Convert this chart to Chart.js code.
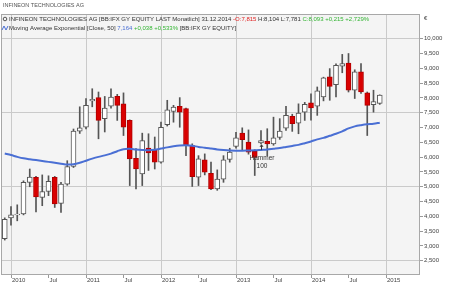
<!DOCTYPE html>
<html>
<head>
<meta charset="utf-8">
<script src="https://cdn.jsdelivr.net/npm/chart.js@4.4.1/dist/chart.umd.min.js"></script>
<style>
html, body { margin: 0; padding: 0; background: #fff; }
#wrap { width: 450px; height: 286px; }
</style>
</head>
<body>
<div id="wrap"><canvas id="myChart" width="450" height="286"></canvas></div>
<script>
// monthly candles, Dec 2009 .. Dec 2014 (EUR)
var months = ['12.2009',
  '01.2010','02.2010','03.2010','04.2010','05.2010','06.2010','07.2010','08.2010','09.2010','10.2010','11.2010','12.2010',
  '01.2011','02.2011','03.2011','04.2011','05.2011','06.2011','07.2011','08.2011','09.2011','10.2011','11.2011','12.2011',
  '01.2012','02.2012','03.2012','04.2012','05.2012','06.2012','07.2012','08.2012','09.2012','10.2012','11.2012','12.2012',
  '01.2013','02.2013','03.2013','04.2013','05.2013','06.2013','07.2013','08.2013','09.2013','10.2013','11.2013','12.2013',
  '01.2014','02.2014','03.2014','04.2014','05.2014','06.2014','07.2014','08.2014','09.2014','10.2014','11.2014','12.2014'];
var opens = [3.25,
  3.95,4.05,4.08,5.15,5.32,4.64,4.84,5.32,4.44,5.09,5.69,6.88,
  7.01,7.90,8.01,7.30,7.72,8.05,7.80,7.24,5.96,5.43,6.31,6.24,
  5.83,7.10,7.54,7.72,7.64,6.39,5.32,5.91,5.45,4.93,5.26,5.92,
  6.36,6.81,6.51,6.20,6.48,6.53,6.45,6.67,6.98,7.38,7.15,7.52,
  7.83,7.72,8.03,8.71,8.45,9.07,9.18,8.26,8.88,8.17,7.77,7.815];
var highs = [3.95,
  4.33,4.39,5.20,5.60,5.35,5.40,5.37,5.35,5.15,5.88,6.95,7.70,
  7.98,8.31,8.20,8.05,8.31,8.12,8.17,7.26,6.29,6.81,6.79,6.68,
  7.18,7.92,7.75,8.01,7.66,6.45,6.05,6.11,5.83,5.57,6.05,6.30,
  6.84,6.99,6.92,6.25,6.90,6.96,7.35,7.30,7.72,7.45,7.80,7.85,
  8.14,8.37,8.70,8.99,9.15,9.47,9.50,8.95,9.16,8.20,8.26,8.104];
var lows = [3.20,
  3.70,3.85,4.05,5.00,4.15,4.36,4.70,4.30,4.13,5.05,5.65,6.80,
  6.95,7.70,6.62,6.85,7.65,7.24,6.73,5.04,4.93,5.04,5.55,5.60,
  5.80,7.05,7.18,7.01,6.05,5.01,5.04,5.40,4.90,4.88,5.15,5.83,
  6.30,6.22,6.10,5.38,6.45,6.05,6.40,6.60,6.90,6.87,6.79,7.24,
  7.25,7.41,7.90,7.92,8.03,8.85,8.20,7.98,8.15,6.73,7.52,7.781];
var closes = [3.90,
  4.05,4.08,5.15,5.33,4.66,4.84,5.18,4.42,5.09,5.68,6.88,6.99,
  7.75,7.95,7.24,7.66,8.03,7.75,7.01,5.94,5.60,6.56,6.14,5.83,
  7.01,7.60,7.69,7.52,6.42,5.34,5.94,5.49,4.93,5.26,5.91,6.17,
  6.65,6.59,6.17,5.99,6.56,6.45,6.65,6.88,7.41,7.13,7.49,7.78,
  7.66,8.24,8.68,8.39,9.10,9.16,8.26,8.88,8.20,7.75,7.878,8.093];
// Moving Average Exponential [Close, 50]
var ema50 = [6.12,
  6.07,6.01,5.96,5.93,5.90,5.87,5.84,5.81,5.78,5.75,5.76,5.81,
  5.88,5.95,6.01,6.06,6.12,6.20,6.27,6.28,6.26,6.245,6.235,6.25,
  6.29,6.33,6.365,6.39,6.40,6.385,6.345,6.32,6.29,6.26,6.24,6.225,
  6.22,6.22,6.225,6.23,6.245,6.26,6.285,6.31,6.345,6.38,6.415,6.47,
  6.53,6.60,6.65,6.72,6.79,6.87,6.97,7.04,7.08,7.11,7.126,7.164];

var xTickLabels = ['2010','Jul','2011','Jul','2012','Jul','2013','Jul','2014','Jul','2015'];
var yLabelMax = 10;
var patternMonth = '05.2013';
var patternText = ['Hammer', '100'];

function monthX(m) {
  var p = m.split('.');
  return (parseInt(p[1]) - 2010) * 12 + parseInt(p[0]) - 1;
}
function fmt(v) { return v.toFixed(3).replace('.', ','); }

var bodies = [], wicks = [], emaPts = [], fills = [], borders = [];
for (var i = 0; i < months.length; i++) {
  var x = monthX(months[i]);
  bodies.push({ x: x, y: [opens[i], closes[i]] });
  wicks.push({ x: x, y: [lows[i], highs[i]] });
  emaPts.push({ x: x, y: ema50[i] });
  var up = closes[i] >= opens[i];
  fills.push(up ? '#ffffff' : '#d90000');
  borders.push(up ? '#555555' : '#b00000');
}

var framePlugin = {
  id: 'frame',
  beforeDraw: function (chart) {
    var c = chart.ctx, a = chart.chartArea;
    c.save();
    c.fillStyle = '#ffffff';
    c.fillRect(0, 0, chart.width, chart.height);
    c.fillStyle = '#f4f4f4';
    c.fillRect(a.left, a.top, a.right - a.left, a.bottom - a.top);
    c.restore();
  },
  afterDraw: function (chart) {
    var c = chart.ctx, a = chart.chartArea;
    var xs = chart.scales.x, ys = chart.scales.y;
    c.save();
    c.strokeStyle = '#a8a8a8';
    c.lineWidth = 1;
    c.strokeRect(a.left + 0.5, a.top + 0.5, a.right - a.left - 1, a.bottom - a.top - 1);

    // title
    c.font = '5.5px "Liberation Sans", Arial, sans-serif';
    c.textBaseline = 'middle';
    c.fillStyle = '#555';
    c.fillText('INFINEON TECHNOLOGIES AG', 3, 5);

    // legend lines
    var n = months.length - 1;
    var chg = closes[n] - closes[n - 1];
    var pct = chg / closes[n - 1] * 100;
    var echg = ema50[n] - ema50[n - 1];
    var epct = echg / ema50[n - 1] * 100;
    var sign = function (v) { return (v >= 0 ? '+' : '') ; };
    c.font = '6px "Liberation Sans", Arial, sans-serif';
    var segs1 = [
      ['INFINEON TECHNOLOGIES AG [BB:IFX GY EQUITY LAST Monatlich] 31.12.2014 ', '#333'],
      ['-O:' + fmt(opens[n]) + ' ', '#e02020'],
      ['H:' + fmt(highs[n]) + ' L:' + fmt(lows[n]) + ' ', '#333'],
      ['C:' + fmt(closes[n]) + ' ' + sign(chg) + fmt(chg) + ' ' + sign(pct) + fmt(pct) + '%', '#33b533']
    ];
    var segs2 = [
      ['Moving Average Exponential [Close, 50] ', '#333'],
      [fmt(ema50[n]) + ' ', '#4a6fd4'],
      [sign(echg) + fmt(echg) + ' ' + sign(epct) + fmt(epct) + '% ', '#33b533'],
      ['[BB:IFX GY EQUITY]', '#333']
    ];
    var y1 = a.top + 5, y2 = a.top + 14;
    c.strokeStyle = '#555';
    c.beginPath();
    c.arc(5, y1, 1.8, 0, Math.PI * 2);
    c.stroke();
    var px = 9;
    segs1.forEach(function (s) { c.fillStyle = s[1]; c.fillText(s[0], px, y1); px += c.measureText(s[0]).width; });
    c.strokeStyle = '#4a6fd4';
    c.beginPath();
    c.moveTo(2, y2 + 2);
    c.lineTo(4, y2 - 2);
    c.lineTo(6, y2 + 2);
    c.lineTo(8, y2 - 2);
    c.stroke();
    px = 9;
    segs2.forEach(function (s) { c.fillStyle = s[1]; c.fillText(s[0], px, y2); px += c.measureText(s[0]).width; });

    // euro sign above the price axis
    c.fillStyle = '#444';
    c.font = '6px "Liberation Sans", Arial, sans-serif';
    c.fillText('\u20ac', a.right + 4, a.top + 4);

    // candle pattern mark
    var k = months.indexOf(patternMonth);
    var hx = xs.getPixelForValue(monthX(patternMonth));
    var hy = ys.getPixelForValue(lows[k]);
    c.strokeStyle = '#333';
    c.fillStyle = '#333';
    c.beginPath();
    c.moveTo(hx + 0.5, hy + 1.5);
    c.lineTo(hx + 0.5, hy + 6);
    c.stroke();
    c.beginPath();
    c.moveTo(hx + 0.5, hy + 0.5);
    c.lineTo(hx - 1.5, hy + 3);
    c.lineTo(hx + 2.5, hy + 3);
    c.closePath();
    c.fill();
    c.font = '6.5px "Liberation Sans", Arial, sans-serif';
    c.textAlign = 'center';
    c.fillText(patternText[0], hx + 1, hy + 14);
    c.fillText(patternText[1], hx + 1, hy + 22);
    c.restore();
  }
};

Chart.defaults.font.family = '"Liberation Sans", Arial, sans-serif';

var ctx = document.getElementById('myChart').getContext('2d');
var chartOne = new Chart(ctx, {
  type: 'bar',
  data: {
    datasets: [{
      type: 'line',
      label: 'EMA 50',
      data: emaPts,
      borderColor: '#4a6fd4',
      borderWidth: 2,
      pointRadius: 0,
      tension: 0.3,
      order: 0
    }, {
      label: 'body',
      data: bodies,
      backgroundColor: fills,
      borderColor: borders,
      borderWidth: 1,
      borderSkipped: false,
      barThickness: 5,
      grouped: false,
      order: 1
    }, {
      label: 'wick',
      data: wicks,
      backgroundColor: '#555555',
      borderWidth: 0,
      barThickness: 1,
      grouped: false,
      order: 2
    }]
  },
  options: {
    responsive: false,
    animation: false,
    layout: { padding: { top: 14, left: 1, right: 0, bottom: 0 } },
    plugins: { legend: { display: false }, tooltip: { enabled: false }, title: { display: false } },
    scales: {
      x: {
        type: 'linear',
        min: -1.6,
        max: 65.44,
        offset: false,
        afterFit: function (s) { s.height = 11; },
        border: { display: false },
        grid: {
          offset: false,
          color: function (c) { return c.tick && c.tick.value % 12 === 0 ? '#cacaca' : 'rgba(0,0,0,0)'; },
          tickColor: '#999',
          tickLength: 3
        },
        ticks: {
          stepSize: 6,
          includeBounds: false,
          autoSkip: false,
          maxRotation: 0,
          align: 'start',
          labelOffset: 1,
          padding: -1,
          color: '#444',
          font: { size: 6 },
          callback: function (v) { return xTickLabels[Math.round(v / 6)]; }
        }
      },
      y: {
        position: 'right',
        min: 2.02,
        max: 10.834,
        afterFit: function (s) { s.width = 30; },
        border: { display: false },
        grid: {
          color: function (c) {
            var r = c.tick ? c.tick.value / 2.5 : 0.5;
            return Math.abs(r - Math.round(r)) < 1e-6 ? '#cacaca' : 'rgba(0,0,0,0)';
          },
          tickColor: function (c) { return c.tick && c.tick.value > yLabelMax + 1e-6 ? 'rgba(0,0,0,0)' : '#999'; },
          tickLength: 3
        },
        ticks: {
          stepSize: 0.5,
          includeBounds: false,
          padding: 1,
          color: '#444',
          font: { size: 6 },
          callback: function (v) { return v > yLabelMax + 1e-6 ? '' : fmt(v); }
        }
      }
    }
  },
  plugins: [framePlugin]
});
</script>
</body>
</html>
